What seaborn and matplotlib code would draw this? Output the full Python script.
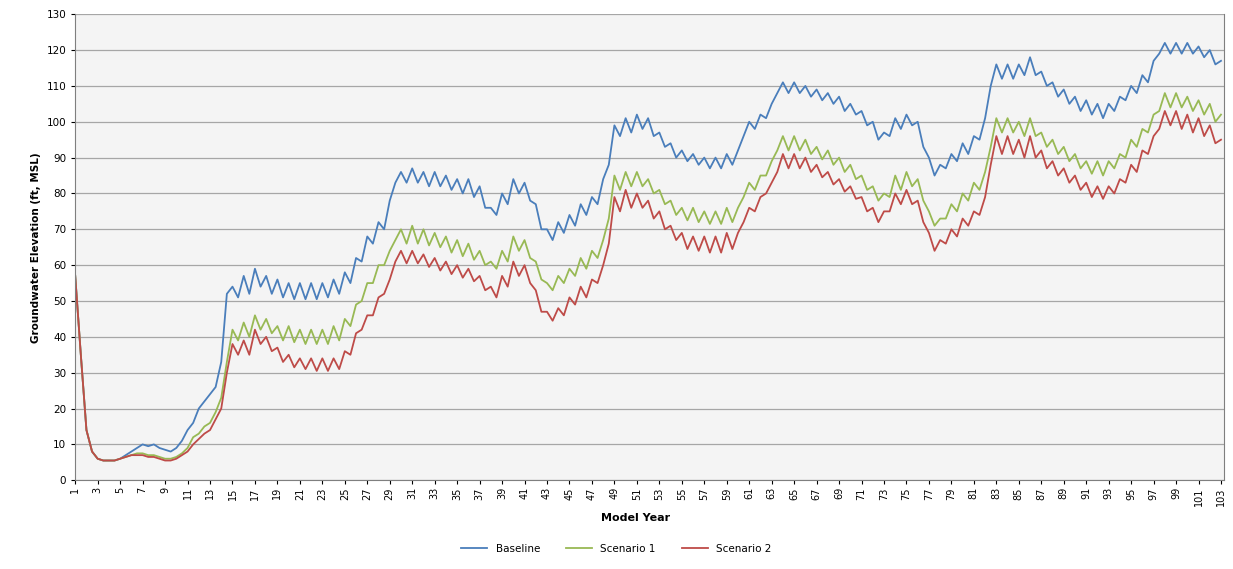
import numpy as np
import pandas as pd
import matplotlib
matplotlib.use("Agg")
import matplotlib.pyplot as plt
import seaborn as sns

# time steps: peak at each whole year, low at each half year
years = np.arange(1, 103.5, 0.5)

baseline = [
    57, 35, 14, 8, 6, 5.5, 5.5, 5.5, 6, 7, 8, 9, 10, 9.5, 10, 9, 8.5, 8, 9, 11,
    14, 16, 20, 22, 24, 26, 33, 52,
    54, 51, 57, 52, 59, 54, 57, 52, 56, 51, 55, 50.5, 55, 50.5, 55, 50.5, 55, 51,
    56, 52, 58, 55, 62, 61, 68, 66, 72, 70, 78, 83,
    86, 83, 87, 83, 86, 82, 86, 82, 85, 81, 84, 80, 84, 79, 82, 76, 76, 74,
    80, 77, 84, 80, 83, 78, 77, 70, 70, 67, 72, 69, 74, 71, 77, 74, 79, 77, 84, 88,
    99, 96, 101, 97, 102, 98, 101, 96, 97, 93, 94, 90, 92, 89, 91, 88, 90, 87,
    90, 87, 91, 88, 92, 96, 100, 98, 102, 101, 105, 108,
    111, 108, 111, 108, 110, 107, 109, 106, 108, 105, 107, 103, 105, 102, 103, 99,
    100, 95, 97, 96, 101, 98, 102, 99, 100, 93, 90, 85, 88, 87, 91, 89, 94, 91,
    96, 95, 101, 110,
    116, 112, 116, 112, 116, 113, 118, 113, 114, 110, 111, 107, 109, 105, 107, 103,
    106, 102, 105, 101, 105, 103, 107, 106, 110, 108, 113, 111, 117, 119,
    122, 119, 122, 119, 122, 119, 121, 118, 120, 116, 117,
]

scenario_1 = [
    57, 35, 14, 8, 6, 5.5, 5.5, 5.5, 6, 6.5, 7, 7.5, 7.5, 7, 7, 6.5, 6, 6, 6.5, 7.5,
    9, 12, 13, 15, 16, 19, 23, 33,
    42, 39, 44, 40, 46, 42, 45, 41, 43, 39, 43, 38.5, 42, 38, 42, 38, 42, 38,
    43, 39, 45, 43, 49, 50, 55, 55, 60, 60, 64, 67,
    70, 66, 71, 66, 70, 65.5, 69, 65, 68, 63.5, 67, 62.5, 66, 61.5, 64, 60, 61, 59,
    64, 61, 68, 64, 67, 62, 61, 56, 55, 53, 57, 55, 59, 57, 62, 59, 64, 62, 67, 73,
    85, 81, 86, 82, 86, 82, 84, 80, 81, 77, 78, 74, 76, 72.5, 76, 72, 75, 71.5,
    75, 71.5, 76, 72, 76, 79, 83, 81, 85, 85, 89, 92,
    96, 92, 96, 92, 95, 91, 93, 89.5, 92, 88, 90, 86, 88, 84, 85, 81,
    82, 78, 80, 79, 85, 81, 86, 82, 84, 78, 75, 71, 73, 73, 77, 75, 80, 78,
    83, 81, 86, 93,
    101, 97, 101, 97, 100, 96, 101, 96, 97, 93, 95, 91, 93, 89, 91, 87,
    89, 85.5, 89, 85, 89, 87, 91, 90, 95, 93, 98, 97, 102, 103,
    108, 104, 108, 104, 107, 103, 106, 102, 105, 100, 102,
]

scenario_2 = [
    57, 35, 14, 8, 6, 5.5, 5.5, 5.5, 6, 6.5, 7, 7, 7, 6.5, 6.5, 6, 5.5, 5.5, 6, 7,
    8, 10, 11.5, 13, 14, 17, 20, 30,
    38, 35, 39, 35, 42, 38, 40, 36, 37, 33, 35, 31.5, 34, 31, 34, 30.5, 34, 30.5,
    34, 31, 36, 35, 41, 42, 46, 46, 51, 52, 56, 61,
    64, 60.5, 64, 60.5, 63, 59.5, 62, 58.5, 61, 57.5, 60, 56.5, 59, 55.5, 57, 53, 54, 51,
    57, 54, 61, 57, 60, 55, 53, 47, 47, 44.5, 48, 46, 51, 49, 54, 51, 56, 55, 60, 66,
    79, 75, 81, 76, 80, 76, 78, 73, 75, 70, 71, 67, 69, 64.5, 68, 64, 68, 63.5,
    68, 63.5, 69, 64.5, 69, 72, 76, 75, 79, 80, 83, 86,
    91, 87, 91, 87, 90, 86, 88, 84.5, 86, 82.5, 84, 80.5, 82, 78.5, 79, 75,
    76, 72, 75, 75, 80, 77, 81, 77, 78, 72, 69, 64, 67, 66, 70, 68, 73, 71,
    75, 74, 79, 88,
    96, 91, 96, 91, 95, 90, 96, 90, 92, 87, 89, 85, 87, 83, 85, 81,
    83, 79, 82, 78.5, 82, 80, 84, 83, 88, 86, 92, 91, 96, 98,
    103, 99, 103, 98, 102, 97, 101, 96, 99, 94, 95,
]

series_names = ["Baseline", "Scenario 1", "Scenario 2"]
colors = ["#4a7ebb", "#98b954", "#be4b48"]

df = pd.concat([
    pd.DataFrame({"year": years, "elev": vals, "series": name})
    for name, vals in zip(series_names, [baseline, scenario_1, scenario_2])
])

fig, ax = plt.subplots(figsize=(12.33, 5.69), dpi=100)
fig.subplots_adjust(left=0.061, right=0.993, top=0.975, bottom=0.156)
ax.set_facecolor("#f4f4f4")

sns.lineplot(data=df, x="year", y="elev", hue="series", palette=colors,
             linewidth=1.3, ax=ax, legend=False)

ax.set_xlim(1, 103.3)
ax.set_ylim(0, 130)
ax.set_yticks(np.arange(0, 131, 10))
ax.set_xticks(np.arange(1, 104, 2))
ax.set_xticklabels([str(v) for v in range(1, 104, 2)], rotation=90, fontsize=7)
ax.tick_params(axis="y", labelsize=7.5, length=3)
ax.tick_params(axis="x", length=3, pad=2)
ax.grid(axis="y", color="#a6a6a6", linewidth=0.9)
ax.grid(axis="x", visible=False)
for s in ["left", "right", "bottom"]:
    ax.spines[s].set_color("#7f7f7f")
ax.spines["top"].set_visible(False)

ax.set_ylabel("Groundwater Elevation (ft, MSL)", fontsize=7.5, fontweight="bold")
ax.set_xlabel("")
# x label sits just under the rotated tick labels
ax.text(0.488, -0.082, "Model Year", transform=ax.transAxes, fontsize=8,
        fontweight="bold", ha="center", va="center")

handles = [plt.Line2D([], [], color=c, linewidth=1.3) for c in colors]
fig.legend(handles, series_names, loc="center", bbox_to_anchor=(0.5, 0.035),
           ncol=3, frameon=False, fontsize=7.5, handlelength=2.5, columnspacing=2.5)

fig.savefig("out.png", dpi=100)
